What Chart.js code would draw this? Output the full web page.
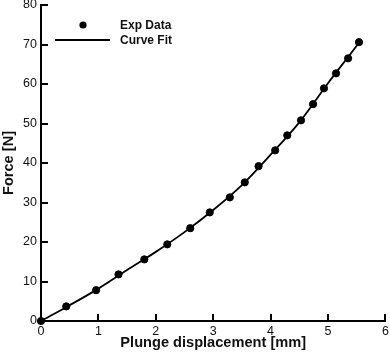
<!DOCTYPE html>
<html>
<head>
<meta charset="utf-8">
<script src="https://cdn.jsdelivr.net/npm/chart.js@4/dist/chart.umd.min.js"></script>
<style>
  html, body { margin: 0; padding: 0; background: #fff; }
  #wrap { width: 390px; height: 354px; }
</style>
</head>
<body>
<div id="wrap"><canvas id="grafico"></canvas></div>
<script>
// dados
const expX = [0, 0.44, 0.96, 1.35, 1.80, 2.20, 2.60, 2.94, 3.29, 3.55, 3.79, 4.08, 4.29, 4.53, 4.74, 4.93, 5.14, 5.35, 5.54];
const expY = [0, 3.7, 7.8, 11.8, 15.6, 19.4, 23.5, 27.5, 31.3, 35.1, 39.2, 43.2, 47.0, 50.8, 54.9, 58.9, 62.7, 66.5, 70.6];

const fitX = [0, 0.5, 1.0, 1.5, 2.0, 2.5, 3.0, 3.5, 4.0, 4.5, 5.0, 5.5, 5.58];
const fitY = [0, 4.0, 8.2, 12.9, 17.5, 22.5, 28.1, 34.4, 42.1, 50.3, 60.2, 69.7, 71.3];

const xTicks = [0, 1, 2, 3, 4, 5, 6];
const yTicks = [0, 10, 20, 30, 40, 50, 60, 70, 80];

const FONTE = "'Liberation Sans', Arial, sans-serif";
const COR_TEXTO = "#111";

// ticks para dentro da área do gráfico
const ticksInternos = {
    id: "ticksInternos",
    afterDraw(chart) {
        const ctx = chart.ctx;
        const area = chart.chartArea;
        ctx.save();
        ctx.strokeStyle = "#000";
        ctx.lineWidth = 2;
        const sx = chart.scales.x, sy = chart.scales.y;
        sx.ticks.forEach((t, i) => {
            const px = Math.round(sx.getPixelForTick(i));
            if (i === 0) return;
            ctx.beginPath();
            ctx.moveTo(px, area.bottom);
            ctx.lineTo(px, area.bottom - 7);
            ctx.stroke();
        });
        sy.ticks.forEach((t, i) => {
            const py = Math.round(sy.getPixelForTick(i));
            if (i === 0) return;
            ctx.beginPath();
            ctx.moveTo(area.left, py);
            ctx.lineTo(area.left + 7, py);
            ctx.stroke();
        });
        ctx.restore();
    }
};

// legenda dentro do gráfico, canto superior esquerdo
const legendaInterna = {
    id: "legendaInterna",
    afterDraw(chart) {
        const ctx = chart.ctx;
        const [pts, fit] = chart.data.datasets;
        ctx.save();
        ctx.fillStyle = pts.backgroundColor;
        ctx.beginPath();
        ctx.arc(83, 25, 3.6, 0, Math.PI * 2);
        ctx.fill();
        ctx.strokeStyle = fit.borderColor;
        ctx.lineWidth = 1.8;
        ctx.beginPath();
        ctx.moveTo(55, 40);
        ctx.lineTo(110, 40);
        ctx.stroke();
        ctx.fillStyle = COR_TEXTO;
        ctx.font = "bold 12px " + FONTE;
        ctx.textBaseline = "middle";
        ctx.fillText(pts.label, 120, 25.5);
        ctx.fillText(fit.label, 120, 40.5);
        ctx.restore();
    }
};

new Chart(document.getElementById("grafico"), {
    type: "scatter",
    data: {
        datasets: [
            {
                label: "Exp Data",
                data: expX.map((x, i) => ({ x, y: expY[i] })),
                backgroundColor: "#000",
                borderColor: "#000",
                pointRadius: 3.6,
                pointHoverRadius: 3.6,
                showLine: false,
                clip: false,
                order: 0
            },
            {
                label: "Curve Fit",
                data: fitX.map((x, i) => ({ x, y: fitY[i] })),
                borderColor: "#000",
                borderWidth: 1.8,
                pointRadius: 0,
                showLine: true,
                cubicInterpolationMode: "monotone",
                clip: false,
                order: 1
            }
        ]
    },
    options: {
        responsive: true, maintainAspectRatio: false,
        animation: false,
        layout: { padding: { left: 0, right: 3, top: 5, bottom: 2 } },
        plugins: { legend: { display: false }, tooltip: { enabled: false } },
        scales: {
            x: {
                type: "linear", min: 0, max: 6,
                afterBuildTicks: s => { s.ticks = xTicks.map(v => ({ value: v })); },
                afterFit: s => { s.height = 31; s.paddingLeft = 0; s.paddingRight = 0; },
                grid: { display: false, drawTicks: false },
                border: { display: true, color: "#000", width: 2 },
                ticks: { color: COR_TEXTO, padding: 3, font: { family: FONTE, size: 12.5 }, maxRotation: 0 },
                title: { display: true, text: "Plunge displacement [mm]", color: COR_TEXTO,
                         padding: { top: 0, bottom: 0 },
                         font: { family: FONTE, size: 14.6, weight: "bold" } }
            },
            y: {
                type: "linear", min: 0, max: 80,
                afterBuildTicks: s => { s.ticks = yTicks.map(v => ({ value: v })); },
                afterFit: s => { s.width = 41; s.paddingTop = 0; s.paddingBottom = 0; },
                grid: { display: false, drawTicks: false },
                border: { display: true, color: "#000", width: 2 },
                ticks: { color: COR_TEXTO, padding: 4, font: { family: FONTE, size: 12.5 } },
                title: { display: true, text: "Force [N]", color: COR_TEXTO,
                         padding: { top: 0, bottom: 0 },
                         font: { family: FONTE, size: 14.6, weight: "bold" } }
            }
        }
    },
    plugins: [ticksInternos, legendaInterna]
});
</script>
</body>
</html>
